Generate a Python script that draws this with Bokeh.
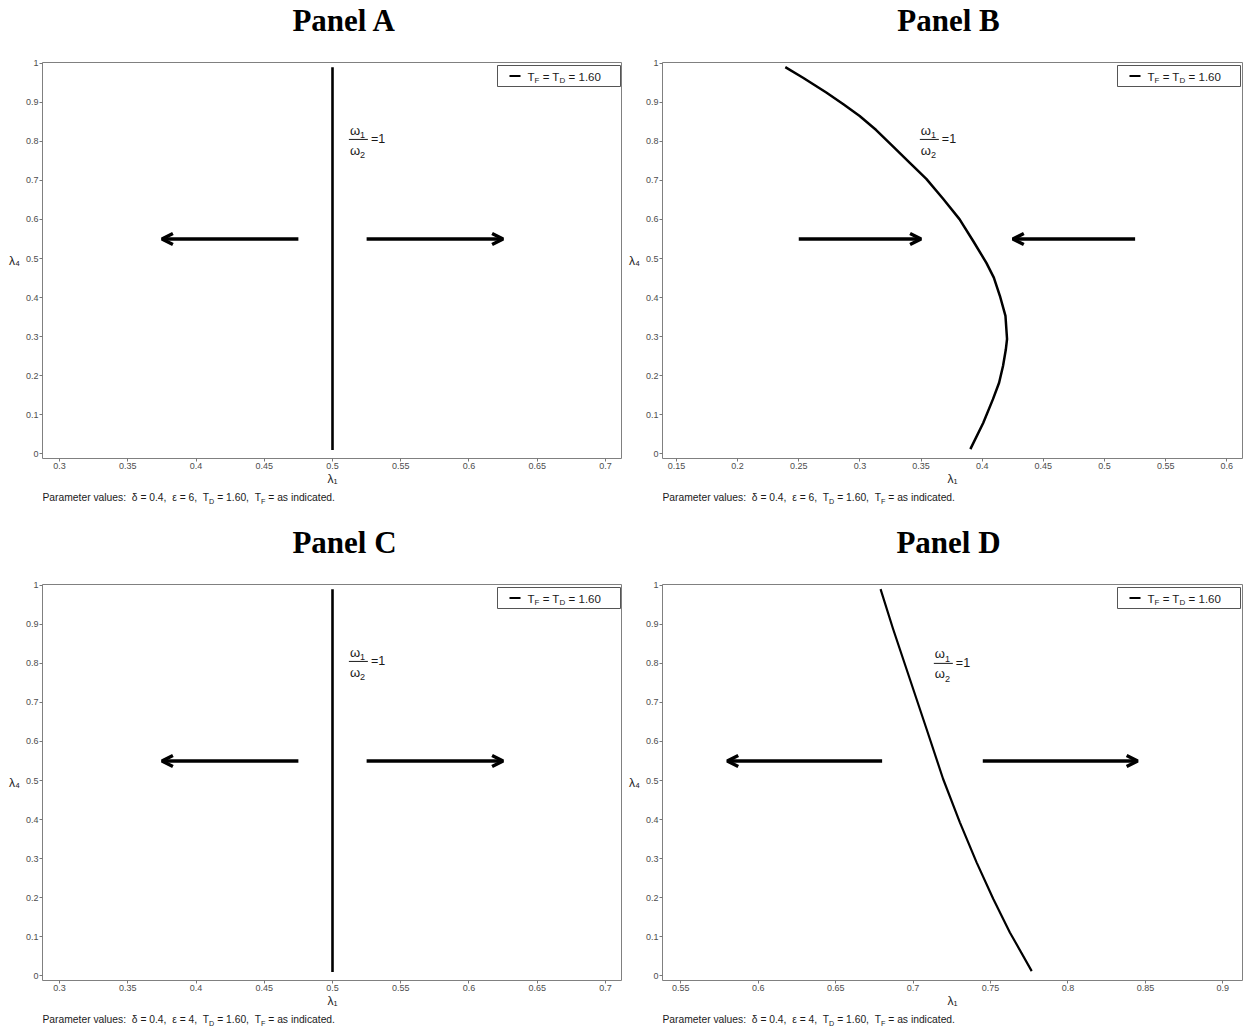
import re

from bokeh.embed import file_html
from bokeh.layouts import column, row
from bokeh.models import (Arrow, BoxAnnotation, FixedTicker, Label, OpenHead,
                          PrintfTickFormatter, Range1d)
from bokeh.plotting import figure
from bokeh.resources import INLINE

SANS = "Liberation Sans"
SERIF = "Liberation Serif"

# ---------------------------------------------------------------- data
lambda4_ticks = [0, 0.1, 0.2, 0.3, 0.4, 0.5, 0.6, 0.7, 0.8, 0.9, 1]
lambda1_ticks_ac = [0.3, 0.35, 0.4, 0.45, 0.5, 0.55, 0.6, 0.65, 0.7]
lambda1_ticks_b = [0.15, 0.2, 0.25, 0.3, 0.35, 0.4, 0.45, 0.5, 0.55, 0.6]
lambda1_ticks_d = [0.55, 0.6, 0.65, 0.7, 0.75, 0.8, 0.85, 0.9]

lambda1_range_ac = (0.2875, 0.7125)
lambda1_range_b = (0.1386, 0.6128)
lambda1_range_d = (0.5382, 0.9127)
lambda4_range = (-0.012, 1.002)

# omega1/omega2 = 1 loci (lambda1, lambda4)
a_lambda1 = [0.5, 0.5]
a_lambda4 = [0.01, 0.99]

b_lambda1 = [0.239, 0.2535, 0.2725, 0.2865, 0.2998, 0.3133, 0.3268, 0.3408,
             0.3543, 0.368, 0.3814, 0.3926, 0.4034, 0.4095, 0.4145, 0.419,
             0.4203, 0.4193, 0.417, 0.4138, 0.4088, 0.4008, 0.3903]
b_lambda4 = [0.99, 0.963, 0.925, 0.895, 0.865, 0.829, 0.788, 0.745,
             0.704, 0.653, 0.601, 0.545, 0.489, 0.451, 0.404, 0.353,
             0.294, 0.267, 0.225, 0.182, 0.140, 0.079, 0.012]

c_lambda1 = [0.5, 0.5]
c_lambda4 = [0.01, 0.99]

d_lambda1 = [0.679, 0.6871, 0.6979, 0.7087, 0.7194, 0.7302, 0.741, 0.7518,
             0.7625, 0.7766]
d_lambda4 = [0.99, 0.888, 0.76, 0.632, 0.504, 0.393, 0.2905, 0.1965,
             0.111, 0.012]

# direction-of-motion arrows: (start, end) in lambda1, all at lambda4 = 0.55
arrow_lambda4 = 0.55
a_arrows = [(0.475, 0.375), (0.525, 0.625)]
b_arrows = [(0.25, 0.35), (0.525, 0.425)]
c_arrows = [(0.475, 0.375), (0.525, 0.625)]
d_arrows = [(0.68, 0.58), (0.745, 0.845)]

# anchor of the "omega1/omega2 = 1" annotation
a_label_at = (0.512, 0.805)
b_label_at = (0.349, 0.805)
c_label_at = (0.512, 0.805)
d_label_at = (0.7134, 0.80)

legend_value = "1.60"
epsilon_top = "6"
epsilon_bottom = "4"

# ---------------------------------------------------------------- layout
FRAME_W = 580
FRAME_H = 396
TITLE_H = 56
PAD_TOP = 6
AXIS_H = 32

# Arial / Liberation Sans advance widths (per 1000 em)
ADV = {
    " ": 278, ":": 278, ",": 278, ".": 278, "=": 584,
    "0": 556, "1": 556, "2": 556, "3": 556, "4": 556, "5": 556, "6": 556,
    "7": 556, "8": 556, "9": 556,
    "P": 667, "T": 611, "D": 722, "F": 611,
    "a": 556, "c": 500, "d": 556, "e": 556, "i": 222, "l": 222, "m": 833,
    "n": 556, "r": 333, "s": 500, "t": 278, "u": 556, "v": 500,
    "δ": 556, "ε": 446, "λ": 500, "ω": 781,
}


def text_width(s, size):
    return sum(ADV.get(ch, 556) for ch in s) * size / 1000.0


def baseline_fix(size):
    # labels sit slightly below their alphabetic anchor; lift them back
    return 0.34 * size


class Frame:
    """Maps pixel positions inside the plot frame to data units."""

    def __init__(self, xr, yr):
        self.xr, self.yr = xr, yr

    def x(self, px):
        return self.xr[0] + px / FRAME_W * (self.xr[1] - self.xr[0])

    def y(self, py):
        return self.yr[0] + py / FRAME_H * (self.yr[1] - self.yr[0])

    def dx(self, px):
        return px / FRAME_W * (self.xr[1] - self.xr[0])


def rich_text(p, runs, x, y, size, color, x_shift=0.0, y_shift=0.0,
              sub_ratio=0.7):
    """Text with subscripts: runs is a list of (text, is_subscript)."""
    cursor = 0.0
    for text, sub in runs:
        fs = size * sub_ratio if sub else size
        for m in re.finditer(r"\S+(?: \S+)*", text):
            dx = cursor + text_width(text[:m.start()], fs)
            p.add_layout(Label(
                x=x, y=y, x_offset=x_shift + dx,
                y_offset=y_shift + baseline_fix(fs) - (0.27 * size if sub else 0.0),
                text=m.group(), text_font=SANS, text_font_size=f"{fs:.1f}px",
                text_color=color, text_baseline="alphabetic", text_align="left"))
        cursor += text_width(text, fs)


def strip(width_left, width_right, height):
    """Blank band (no axes) whose x units are pixels from the frame's left."""
    s = figure(
        width=FRAME_W + width_left + width_right, height=height,
        x_range=Range1d(0, FRAME_W), y_range=Range1d(0, height),
        x_axis_type=None, y_axis_type=None, title=None,
        output_backend="svg", toolbar_location=None,
        min_border_left=width_left, min_border_right=width_right,
        min_border_top=0, min_border_bottom=0, outline_line_color=None,
        background_fill_color="white", border_fill_color="white",
    )
    s.grid.visible = False
    return s


def make_panel(name, title_center, xr, x_ticks, lam1, lam4, arrows, label_at,
               epsilon, left_border, right_border, caption_h, curve_width):
    # title band
    top = strip(left_border, right_border, TITLE_H)
    top.add_layout(Label(
        x=title_center, y=TITLE_H - 31, y_offset=baseline_fix(31), text=name,
        text_font=SERIF, text_font_style="bold", text_font_size="31px",
        text_color="black", text_align="center", text_baseline="alphabetic"))

    p = figure(
        width=FRAME_W + left_border + right_border,
        height=FRAME_H + PAD_TOP + AXIS_H,
        x_range=Range1d(*xr), y_range=Range1d(*lambda4_range),
        title=None, output_backend="svg", toolbar_location=None,
        min_border_left=left_border, min_border_right=right_border,
        min_border_top=PAD_TOP, min_border_bottom=AXIS_H,
        background_fill_color="white", border_fill_color="white",
    )
    fr = Frame(xr, lambda4_range)

    p.grid.visible = False
    p.outline_line_color = "#808080"
    p.outline_line_width = 1

    for ax in (p.xaxis[0], p.yaxis[0]):
        ax.axis_line_color = None
        ax.major_tick_line_color = "#777777"
        ax.major_tick_in = 0
        ax.major_tick_out = 3
        ax.minor_tick_line_color = None
        ax.formatter = PrintfTickFormatter(format="%g")
        ax.major_label_text_font = SANS
        ax.major_label_text_font_size = "9px"
        ax.major_label_text_color = "#4d4d4d"
        ax.axis_label_text_font = SANS
        ax.axis_label_text_font_size = "12px"
        ax.axis_label_text_font_style = "normal"
        ax.axis_label_text_color = "#1a1a1a"

    xa, ya = p.xaxis[0], p.yaxis[0]
    xa.ticker = FixedTicker(ticks=x_ticks)
    xa.major_label_standoff = 1
    xa.axis_label = "λ₁"
    xa.axis_label_standoff = 0
    ya.ticker = FixedTicker(ticks=lambda4_ticks)
    ya.major_label_standoff = 1
    ya.axis_label = "λ₄"
    ya.axis_label_orientation = "horizontal"
    ya.axis_label_standoff = 3

    # locus where omega1/omega2 = 1
    p.line(lam1, lam4, line_color="black", line_width=curve_width,
           line_join="round")

    # direction arrows
    for x0, x1 in arrows:
        p.add_layout(Arrow(
            x_start=x0, y_start=arrow_lambda4, x_end=x1, y_end=arrow_lambda4,
            line_color="black", line_width=3.5,
            end=OpenHead(size=11, line_width=3.5, line_color="black")))

    # omega1 / omega2 = 1 annotation
    lx, ly = label_at
    p.add_layout(Arrow(x_start=lx, y_start=ly, x_end=lx + fr.dx(19),
                       y_end=ly, start=None, end=None,
                       line_color="#1a1a1a", line_width=1))
    rich_text(p, [("ω", False), ("1", True)], lx, ly, 13, "#1a1a1a",
              x_shift=1, y_shift=5)
    rich_text(p, [("ω", False), ("2", True)], lx, ly, 13, "#1a1a1a",
              x_shift=1, y_shift=-15)
    rich_text(p, [("=1", False)], lx, ly, 12.5, "#1a1a1a",
              x_shift=22, y_shift=-4)

    # legend
    p.add_layout(BoxAnnotation(
        left=fr.x(FRAME_W - 125), right=fr.x(FRAME_W - 2),
        top=fr.y(FRAME_H - 3), bottom=fr.y(FRAME_H - 24),
        fill_color="white", fill_alpha=1.0,
        line_color="#555555", line_width=1, line_alpha=1.0))
    p.add_layout(Arrow(
        x_start=fr.x(FRAME_W - 113), x_end=fr.x(FRAME_W - 102),
        y_start=fr.y(FRAME_H - 13.5), y_end=fr.y(FRAME_H - 13.5),
        start=None, end=None, line_color="black", line_width=2))
    rich_text(p, [("T", False), ("F", True), (" = T", False), ("D", True),
                  (" = " + legend_value, False)],
              fr.x(FRAME_W - 95), fr.y(FRAME_H - 18), 11.5, "#1a1a1a")

    # caption band beneath the axis
    cap = strip(left_border, right_border, caption_h)
    rich_text(cap, [("Parameter values:  δ = 0.4,  ε = " + epsilon + ",  T", False),
                    ("D", True), (" = 1.60,  T", False), ("F", True),
                    (" = as indicated.", False)],
              0, caption_h - 11, 10.3, "#1a1a1a")
    return column(top, p, cap)


pa = make_panel("Panel A", 302, lambda1_range_ac, lambda1_ticks_ac,
                a_lambda1, a_lambda4, a_arrows, a_label_at, epsilon_top,
                42, 0, 32, 2.6)
pb = make_panel("Panel B", 286, lambda1_range_b, lambda1_ticks_b,
                b_lambda1, b_lambda4, b_arrows, b_label_at, epsilon_top,
                40, 3, 32, 2.5)
pc = make_panel("Panel C", 302, lambda1_range_ac, lambda1_ticks_ac,
                c_lambda1, c_lambda4, c_arrows, c_label_at, epsilon_bottom,
                42, 0, 18, 2.6)
pd = make_panel("Panel D", 286, lambda1_range_d, lambda1_ticks_d,
                d_lambda1, d_lambda4, d_arrows, d_label_at, epsilon_bottom,
                40, 3, 18, 2.2)

layout = column(row(pa, pb), row(pc, pd))

with open("out.html", "w") as f:
    f.write(file_html(layout, INLINE))
